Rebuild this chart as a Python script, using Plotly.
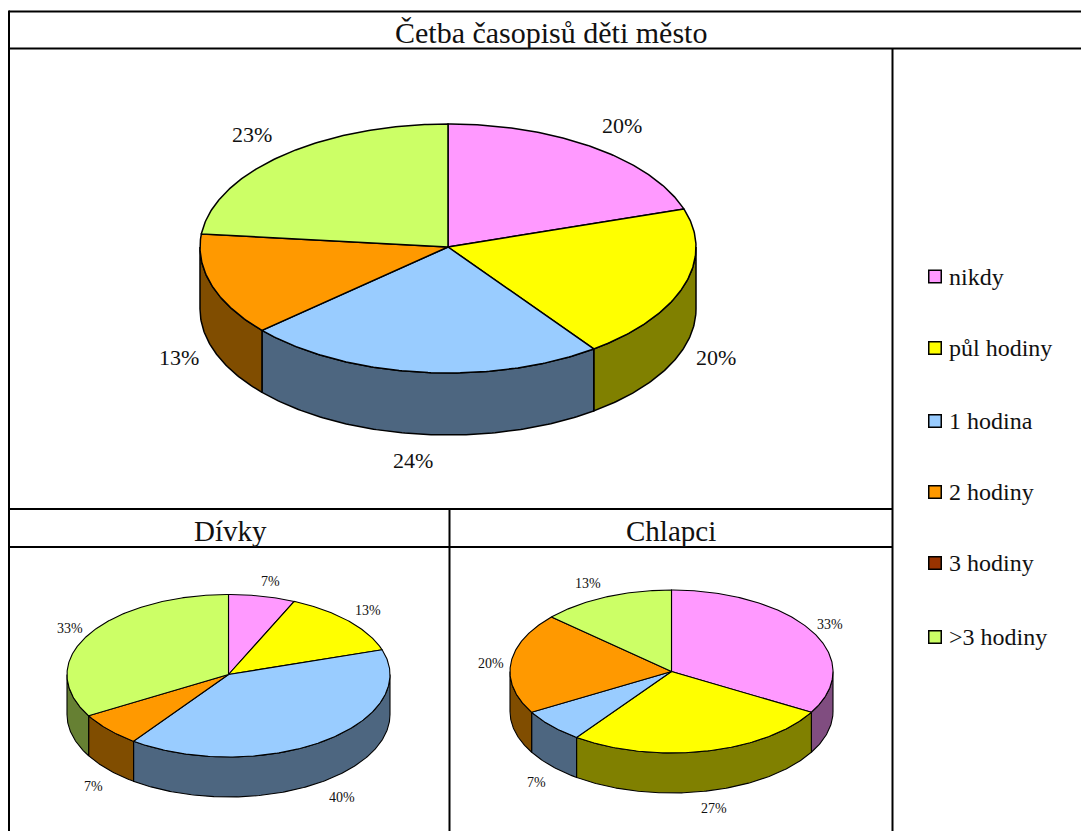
import numpy as np
import plotly.graph_objects as go

# ---------- data ----------
categories = ["nikdy", "půl hodiny", "1 hodina", "2 hodiny", "3 hodiny", ">3 hodiny"]
mesto_values = [20, 20, 23.5, 13.2, 0, 23.3]
divky_values = [1, 2, 6, 1, 0, 5]
chlapci_values = [5, 4, 1, 3, 0, 2]
mesto_labels = ["20%", "20%", "24%", "13%", "", "23%"]
divky_labels = ["7%", "13%", "40%", "7%", "", "33%"]
chlapci_labels = ["33%", "27%", "7%", "20%", "", "13%"]
title_main = "Četba časopisů děti město"
title_left = "Dívky"
title_right = "Chlapci"

# ---------- styles ----------
top_colors = ["#FF99FF", "#FFFF00", "#99CCFF", "#FF9900", "#993300", "#CCFF66"]
wall_colors = ["#804D80", "#808000", "#4D6680", "#804D00", "#4D1A00", "#668033"]
FONT = "Liberation Serif"

# ---------- layout of the three pies (pixel-like axes) ----------
pies = [
    dict(v=mesto_values, lab=mesto_labels, cx=448, cy=247, rx=248, ru=123, rd=126, d=62, lw=1.5, fs=22,
         pos=[(622, 125), (716, 357), (413, 460), (179, 357), None, (252, 134)]),
    dict(v=divky_values, lab=divky_labels, cx=228.5, cy=674.5, rx=161.5, ru=80, rd=82.5, d=40, lw=1.1, fs=14,
         pos=[(270, 581), (368, 610), (342, 797), (93, 786), None, (70, 628)]),
    dict(v=chlapci_values, lab=chlapci_labels, cx=671.5, cy=671.5, rx=161.5, ru=81.5, rd=81.5, d=40, lw=1.1, fs=14,
         pos=[(830, 624), (714, 808), (536, 782), (491, 663), None, (588, 583)]),
]

fig = go.Figure()


def arc(p, t0, t1, drop=0.0):
    n = max(2, int(abs(t1 - t0) * 180 / np.pi * 1.5))
    t = np.linspace(t0, t1, n)
    c = np.cos(t)
    return p["cx"] + p["rx"] * np.sin(t), p["cy"] - np.where(c > 0, p["ru"], p["rd"]) * c + drop


def poly(xs, ys, fill, lw):
    fig.add_trace(go.Scatter(x=xs, y=ys, mode="lines", fill="toself", fillcolor=fill,
                             line=dict(color="black", width=lw), hoverinfo="skip",
                             showlegend=False))


for p in pies:
    total = sum(p["v"])
    edges = 2 * np.pi * np.cumsum([0] + p["v"]) / total
    # side walls (only the front half of the rim shows)
    for i in range(len(p["v"])):
        a, b = max(edges[i], np.pi / 2), min(edges[i + 1], 3 * np.pi / 2)
        if b > a:
            x1, y1 = arc(p, a, b)
            x2, y2 = arc(p, b, a, p["d"])
            poly(np.r_[x1, x2, x1[0]], np.r_[y1, y2, y1[0]], wall_colors[i], p["lw"])
    # top faces
    for i in range(len(p["v"])):
        if p["v"][i] > 0:
            x1, y1 = arc(p, edges[i], edges[i + 1])
            poly(np.r_[p["cx"], x1, p["cx"]], np.r_[p["cy"], y1, p["cy"]], top_colors[i], p["lw"])
    # value labels
    for lab, xy in zip(p["lab"], p["pos"]):
        if xy:
            fig.add_annotation(x=xy[0], y=xy[1], text=lab, showarrow=False,
                               font=dict(family=FONT, size=p["fs"], color="#111111"))

# ---------- table grid ----------
grid = [
    ((9, 1081), (11.5, 11.5)), ((9, 1081), (48.5, 48.5)),
    ((9, 9), (10.5, 831)), ((892.5, 892.5), (48.5, 831)),
    ((9, 892.5), (509, 509)), ((9, 892.5), (547, 547)),
    ((449.5, 449.5), (509, 831)),
]
for gx, gy in grid:
    fig.add_shape(type="line", x0=gx[0], x1=gx[1], y0=gy[0], y1=gy[1],
                  line=dict(color="black", width=2))

# ---------- titles ----------
for txt, x, y, s in [(title_main, 550.5, 32, 30), (title_left, 230, 530.5, 29), (title_right, 671, 530.5, 29)]:
    fig.add_annotation(x=x, y=y, text=txt, showarrow=False,
                       font=dict(family=FONT, size=s, color="#111111"))

# ---------- legend ----------
legend_y = [276.5, 348, 421, 492, 563, 637]
fig.add_trace(go.Scatter(x=[935] * len(categories), y=legend_y, mode="markers",
                         marker=dict(symbol="square", size=12.5, color=top_colors,
                                     line=dict(color="black", width=1.5)),
                         hoverinfo="skip", showlegend=False))
for name, y in zip(categories, legend_y):
    fig.add_annotation(x=947, y=y, text=name, showarrow=False, xanchor="left",
                       font=dict(family=FONT, size=24, color="#111111"))

fig.update_layout(width=1081, height=831, margin=dict(l=0, r=0, t=0, b=0),
                  paper_bgcolor="white", plot_bgcolor="white", showlegend=False,
                  xaxis=dict(range=[0, 1081], visible=False, fixedrange=True),
                  yaxis=dict(range=[831, 0], visible=False, fixedrange=True))

fig.write_html("out.html", config={"displayModeBar": False},
               post_script="document.body.style.margin='0';document.body.style.overflow='hidden';")
